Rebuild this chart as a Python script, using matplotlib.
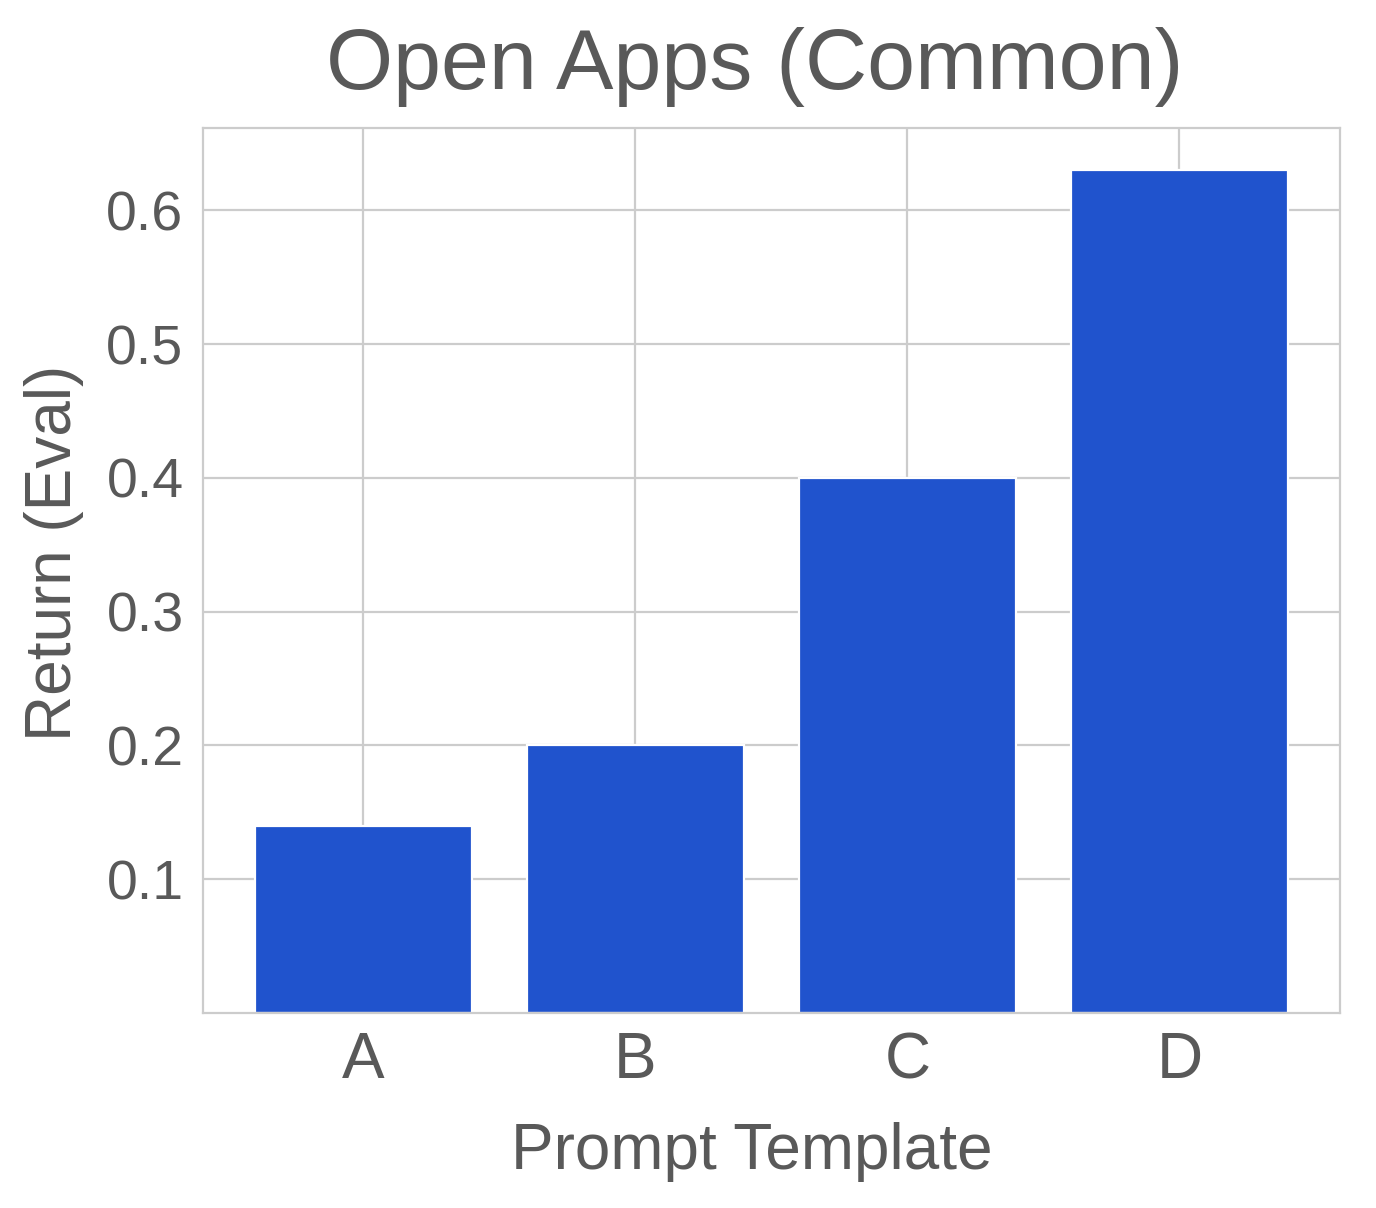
import matplotlib
matplotlib.use("Agg")
import matplotlib.pyplot as plt
import seaborn as sns

templates = ["A", "B", "C", "D"]
returns = [0.14, 0.20, 0.40, 0.63]

sns.set_style("whitegrid")
plt.rcParams['font.family'] = ['Liberation Sans', 'DejaVu Sans']
text_color = '#595959'

fig = plt.figure(figsize=(6.88, 6.04), dpi=200)
ax = fig.add_axes([0.1475, 0.1614, 0.8263, 0.7326])

ax.bar(templates, returns, width=0.8, color='#2053cd', edgecolor='white', linewidth=0.8)

ax.set_ylim(0, max(returns) * 1.05)
ax.set_yticks([0.1, 0.2, 0.3, 0.4, 0.5, 0.6])
ax.tick_params(axis='y', colors=text_color, labelsize=20)
ax.tick_params(axis='x', colors=text_color, labelsize=23, pad=3)
ax.set_xlabel("Prompt Template", fontsize=23, color=text_color, labelpad=11)
ax.xaxis.label.set_x(0.483)
ax.set_ylabel("Return (Eval)", fontsize=23, color=text_color, labelpad=8)
ax.yaxis.label.set_y(0.52)
ax.set_title("Open Apps (Common)", fontsize=31, color=text_color, pad=14, x=0.485)

for s in ax.spines.values():
    s.set_color('#cccccc')
    s.set_linewidth(0.8)
ax.grid(color='#cccccc', linewidth=0.8)

fig.savefig("out.png", dpi=200)
